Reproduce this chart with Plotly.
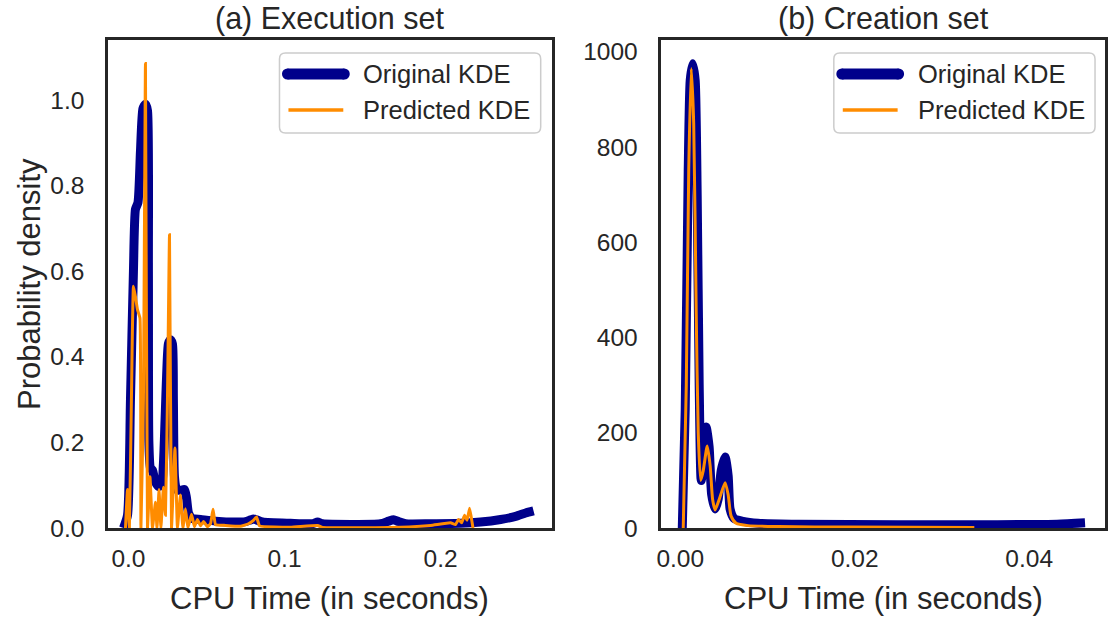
import plotly.graph_objects as go

# ---------------- data ----------------
# (a) Execution set
exec_orig_x = [-0.0032, -0.0006, 0.0013, 0.0032, 0.0045, 0.0061, 0.0077, 0.0093, 0.0109, 0.0122,
               0.0128, 0.0131, 0.0141, 0.0154, 0.0170, 0.0192, 0.0212, 0.0224, 0.0244, 0.0256,
               0.0269, 0.0282, 0.0288, 0.0295, 0.0308, 0.0333, 0.0359, 0.0372, 0.0385, 0.0410,
               0.0462, 0.0558, 0.0686, 0.0750, 0.0782, 0.0801, 0.0821, 0.0859, 0.1038, 0.1179,
               0.1212, 0.1244, 0.1615, 0.1667, 0.1699, 0.1731, 0.1776, 0.1936, 0.2128, 0.2256,
               0.2385, 0.2481, 0.2545, 0.2596]
exec_orig_y = [0.0, 0.03, 0.30, 0.60, 0.745, 0.76, 0.88, 0.98, 0.99, 0.975,
               0.60, 0.20, 0.14, 0.135, 0.11, 0.097, 0.10, 0.15, 0.35, 0.43,
               0.44, 0.43, 0.30, 0.12, 0.09, 0.088, 0.09, 0.07, 0.035, 0.022,
               0.020, 0.016, 0.014, 0.015, 0.019, 0.021, 0.019, 0.014, 0.011, 0.010,
               0.014, 0.010, 0.010, 0.016, 0.019, 0.015, 0.010, 0.010, 0.011, 0.014,
               0.020, 0.027, 0.035, 0.040]

exec_pred_x = [-0.0019, -0.0006, 0.0006, 0.0019, 0.0032, 0.0045, 0.0058, 0.0074, 0.0080, 0.0096,
               0.0109, 0.0122, 0.0138, 0.0154, 0.0173, 0.0183, 0.0196, 0.0208, 0.0224, 0.0237,
               0.0250, 0.0263, 0.0276, 0.0298, 0.0314, 0.0333, 0.0349, 0.0365, 0.0381, 0.0404,
               0.0423, 0.0442, 0.0462, 0.0481, 0.0506, 0.0526, 0.0542, 0.0558, 0.0622, 0.0718,
               0.0769, 0.0801, 0.0821, 0.0840, 0.1038, 0.1212, 0.1244, 0.1744, 0.1936, 0.2064,
               0.2096, 0.2115, 0.2135, 0.2154, 0.2170, 0.2186, 0.2199, 0.2208]
exec_pred_y = [0.0, 0.09, 0.0, 0.30, 0.565, 0.54, 0.51, 0.49, 0.0, 0.30,
               1.085, 0.0, 0.12, 0.0, 0.06, 0.0, 0.09, 0.0, 0.095, 0.03,
               0.30, 0.685, 0.0, 0.187, 0.0, 0.077, 0.0, 0.045, 0.0, 0.032,
               0.003, 0.020, 0.005, 0.015, 0.003, 0.010, 0.044, 0.008, 0.006, 0.004,
               0.010, 0.018, 0.026, 0.005, 0.002, 0.006, 0.001, 0.002, 0.006, 0.012,
               0.008, 0.020, 0.012, 0.030, 0.018, 0.046, 0.020, 0.0]

# (b) Creation set
create_orig_x = [0.00023, 0.00057, 0.00091, 0.00114, 0.00143, 0.00171, 0.00194, 0.00217, 0.00240,
                 0.00263, 0.00297, 0.00331, 0.00360, 0.00400, 0.00434, 0.00469, 0.00514, 0.00549,
                 0.00571, 0.00617, 0.00720, 0.00891, 0.01349, 0.02491, 0.03634, 0.04320, 0.04640]
create_orig_y = [0, 250, 750, 940, 975, 940, 700, 300, 100,
                 130, 212, 170, 70, 40, 60, 120, 149, 110,
                 40, 20, 14, 10, 8, 7, 7, 8, 11]

create_pred_x = [0.00034, 0.00069, 0.00097, 0.00126, 0.00154, 0.00183, 0.00206, 0.00234, 0.00263,
                 0.00309, 0.00343, 0.00371, 0.00400, 0.00446, 0.00514, 0.00549, 0.00583, 0.00640,
                 0.00777, 0.01120, 0.01920, 0.03371]
create_pred_y = [0, 300, 750, 965, 850, 450, 200, 100, 120,
                 172, 130, 60, 38, 60, 95, 70, 25, 10,
                 5, 3, 2, 1]

panel_titles = ["(a) Execution set", "(b) Creation set"]
series_names = ["Original KDE", "Predicted KDE"]
x_title = "CPU Time (in seconds)"
y_title = "Probability density"

left_xticks = [0.0, 0.1, 0.2]
left_xticktext = ["0.0", "0.1", "0.2"]
left_yticks = [0.0, 0.2, 0.4, 0.6, 0.8, 1.0]
left_yticktext = ["0.0", "0.2", "0.4", "0.6", "0.8", "1.0"]
right_xticks = [0.0, 0.02, 0.04]
right_xticktext = ["0.00", "0.02", "0.04"]
right_yticks = [0, 200, 400, 600, 800, 1000]
right_yticktext = ["0", "200", "400", "600", "800", "1000"]

# ---------------- style ----------------
BLUE = "#00008b"
ORANGE = "#ff8c00"
TXT = "#262626"
FONT = "Liberation Sans, Arial, sans-serif"
W, H = 1110, 619
ML, MR, MT, MB = 108, 2, 40, 91
PW, PH = W - ML - MR, H - MT - MB

fig = go.Figure()
fig.add_trace(go.Scatter(x=exec_orig_x, y=exec_orig_y, mode="lines", name=series_names[0],
                         line=dict(color=BLUE, width=9, shape="spline", smoothing=0.6),
                         xaxis="x", yaxis="y", showlegend=False))
fig.add_trace(go.Scatter(x=exec_pred_x, y=exec_pred_y, mode="lines", name=series_names[1],
                         line=dict(color=ORANGE, width=3, shape="spline", smoothing=0.3),
                         xaxis="x", yaxis="y", showlegend=False))
fig.add_trace(go.Scatter(x=create_orig_x, y=create_orig_y, mode="lines", name=series_names[0],
                         line=dict(color=BLUE, width=9, shape="spline", smoothing=0.6),
                         xaxis="x2", yaxis="y2", showlegend=False))
fig.add_trace(go.Scatter(x=create_pred_x, y=create_pred_y, mode="lines", name=series_names[1],
                         line=dict(color=ORANGE, width=3, shape="spline", smoothing=0.6),
                         xaxis="x2", yaxis="y2", showlegend=False))

axis_common = dict(showgrid=False, zeroline=False, showline=True, mirror=True,
                   linecolor=TXT, linewidth=2.5, ticks="",
                   tickfont=dict(family=FONT, size=24.5, color=TXT))

fig.update_layout(
    width=W, height=H, margin=dict(l=ML, r=MR, t=MT, b=MB),
    paper_bgcolor="white", plot_bgcolor="white",
    font=dict(family=FONT, color=TXT),
    xaxis=dict(domain=[0, 0.445], range=[-0.0131, 0.2712], tickvals=left_xticks,
               ticktext=left_xticktext, anchor="y", ticklabelstandoff=7, **axis_common),
    yaxis=dict(domain=[0, 1], range=[0, 1.14], tickvals=left_yticks,
               ticktext=left_yticktext, anchor="x", ticklabelstandoff=16, **axis_common),
    xaxis2=dict(domain=[0.555, 1.0], range=[-0.00217, 0.04869], tickvals=right_xticks,
                ticktext=right_xticktext, anchor="y2", ticklabelstandoff=7, **axis_common),
    yaxis2=dict(domain=[0, 1], range=[0, 1025], tickvals=right_yticks,
                ticktext=right_yticktext, anchor="x2", ticklabelstandoff=16, **axis_common),
)

def px2x(px):
    return (px - ML) / PW

def py2y(py):
    return (MT + PH - py) / PH

anns = []
for cx, t in zip([0.2225, 0.7775], panel_titles):
    anns.append(dict(text=t, x=cx, y=1, xref="paper", yref="paper", xanchor="center",
                     yanchor="bottom", yshift=2, showarrow=False,
                     font=dict(family=FONT, size=30.5, color=TXT)))
    anns.append(dict(text=x_title, x=cx, y=0, xref="paper", yref="paper", xanchor="center",
                     yanchor="top", yshift=-51, showarrow=False,
                     font=dict(family=FONT, size=31, color=TXT)))
anns.append(dict(text=y_title, x=0, y=0.5, xref="paper", yref="paper", xanchor="center",
                 yanchor="middle", xshift=-79, textangle=-90, showarrow=False,
                 font=dict(family=FONT, size=31, color=TXT)))

shapes = []
def rounded_rect(x0, y0, x1, y1, r):
    def P(px, py):
        return f"{px2x(px):.5f},{py2y(py):.5f}"
    return ("M " + P(x0 + r, y0) + " L " + P(x1 - r, y0) + " Q " + P(x1, y0) + " " + P(x1, y0 + r) +
            " L " + P(x1, y1 - r) + " Q " + P(x1, y1) + " " + P(x1 - r, y1) +
            " L " + P(x0 + r, y1) + " Q " + P(x0, y1) + " " + P(x0, y1 - r) +
            " L " + P(x0, y0 + r) + " Q " + P(x0, y0) + " " + P(x0 + r, y0) + " Z")

for off in [0, 556]:
    shapes.append(dict(type="path", xref="paper", yref="paper",
                       path=rounded_rect(280 + off, 53, 542 + off, 133, 6),
                       line=dict(color="#cccccc", width=1.5), fillcolor="rgba(255,255,255,0.85)"))
    shapes.append(dict(type="line", xref="paper", yref="paper",
                       x0=px2x(288 + off), x1=px2x(345 + off), y0=py2y(74), y1=py2y(74),
                       line=dict(color=BLUE, width=11)))
    for cxp in [288 + off, 345 + off]:
        shapes.append(dict(type="circle", xref="paper", yref="paper",
                           x0=px2x(cxp - 5.5), x1=px2x(cxp + 5.5),
                           y0=py2y(74 + 5.5), y1=py2y(74 - 5.5),
                           line=dict(width=0), fillcolor=BLUE))
    shapes.append(dict(type="line", xref="paper", yref="paper",
                       x0=px2x(289 + off), x1=px2x(344 + off), y0=py2y(110), y1=py2y(110),
                       line=dict(color=ORANGE, width=3.5)))
    for yy, name in zip([74, 110], series_names):
        anns.append(dict(text=name, x=px2x(362 + off), y=py2y(yy), xref="paper", yref="paper",
                         xanchor="left", yanchor="middle", showarrow=False,
                         font=dict(family=FONT, size=25.5, color=TXT)))

fig.update_layout(annotations=anns, shapes=shapes)
fig.write_html("out.html")
